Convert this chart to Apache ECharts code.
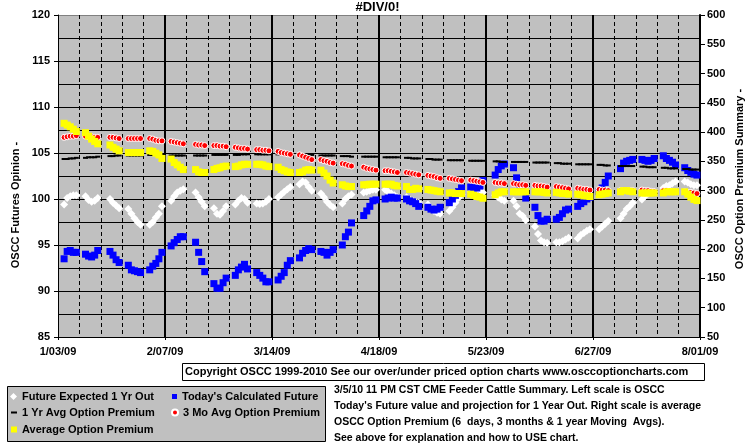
<!DOCTYPE html>
<html><head><meta charset="utf-8">
<script src="https://cdn.jsdelivr.net/npm/echarts@6/dist/echarts.min.js"></script>
<style>html,body{margin:0;padding:0;background:#fff}#c{width:755px;height:446px}</style>
</head><body><div id="c"></div>
<script>
// x tick labels (every 35 days starting Sat 1/03/09)
const xTickLabels = ['1/03/09','2/07/09','3/14/09','4/18/09','5/23/09','6/27/09','8/01/09'];
// 30 trading weeks, Mon..Fri, first Monday = 1/05/09 (null = market holiday)
const futureExpected = [
 99.4,100.1,100.3,100.4,100.4,  100.3,99.9,99.7,99.8,100.1,  null,100.0,99.6,99.3,99.0,
 98.9,98.4,97.9,97.5,97.2,  97.2,97.5,98.0,98.4,99.2,  99.8,100.3,100.7,100.9,101.05,
 null,100.7,100.2,99.7,99.2,  99.0,98.4,98.3,98.7,99.2,  99.4,99.8,100.1,100.0,99.6,
 99.5,99.45,99.5,99.7,100.0,  100.2,100.5,100.8,101.05,101.3,  101.6,101.9,101.8,101.3,100.9,
 100.6,100.2,99.7,99.35,99.1,  99.5,100.0,100.3,100.5,null,  100.7,100.8,100.9,101.0,101.0,
 101.0,100.8,100.6,100.4,100.2,  100.2,99.95,99.8,99.7,99.6,  99.4,99.0,98.7,98.5,98.4,
 98.7,99.1,99.6,100.1,100.5,  100.8,101.0,101.05,101.0,100.7,  null,100.4,100.15,99.95,99.8,
 99.8,99.2,98.4,98.15,97.7,  97.0,96.2,95.5,95.3,95.25,  95.3,95.3,95.4,95.6,95.8,
 95.7,96.1,96.3,96.55,96.7,  96.7,97.0,97.3,97.6,null,  97.9,98.4,98.9,99.2,99.6,
 99.95,100.3,100.6,100.7,100.8,  101.2,101.4,101.5,101.7,101.9,  101.9,101.8,101.6,101.5,101.5
];
const calculatedFuture = [
 93.5,94.3,94.4,94.2,94.2,  94.0,93.8,93.7,93.9,94.4,  null,94.3,93.9,93.4,93.1,
 92.8,92.3,92.2,92.1,92.0,  92.3,92.7,93.0,93.5,94.2,  94.9,95.25,95.6,95.9,95.9,
 null,95.3,94.2,93.2,92.1,  90.8,90.3,90.3,90.9,91.4,  91.7,92.3,92.6,92.9,92.4,
 92.0,91.7,91.4,91.0,91.0,  91.2,91.6,92.0,92.8,93.3,  93.6,94.1,94.4,94.6,94.5,
 94.3,94.2,93.9,94.2,94.5,  95.0,95.9,96.4,97.4,null,  98.2,98.7,99.2,99.8,99.9,
 100.0,100.1,100.2,100.1,100.1,  100.0,99.8,99.7,99.5,99.2,  99.1,98.9,98.8,98.9,99.1,
 99.6,100.0,100.4,100.8,101.2,  101.3,101.2,101.2,101.4,102.0,  null,102.6,103.2,103.6,103.8,
 103.4,102.3,101.3,101.1,100.1,  99.1,98.2,97.6,97.6,97.8,  97.8,98.0,98.4,98.8,98.9,
 99.2,99.5,99.7,100.0,100.2,  100.8,101.2,101.8,102.5,null,  103.3,103.9,104.1,104.2,104.3,
 104.3,104.2,104.1,104.2,104.4,  104.7,104.4,104.2,104.0,103.7,  103.4,103.1,102.9,102.7,102.6
];
const oneYrAvgPremium = [
 354,354,355,355,356,  356,357,357,357,358,  null,359,359,360,360,
 360,360,360,360,360,  361,361,361,361,361,  360,360,360,360,360,
 null,360,360,360,360,  361,361,361,361,361,  361,361,362,362,362,
 362,362,362,362,362,  362,362,361,361,361,  361,361,361,361,361,
 360,360,360,360,360,  359,359,359,358,null,  358,358,358,358,358,
 357,357,357,357,357,  356,356,355,355,355,  354,354,353,353,353,
 352,352,352,352,352,  351,351,351,351,351,  null,350,350,349,349,
 349,349,349,349,349,  348,348,348,348,348,  347,347,346,346,346,
 345,345,345,345,345,  344,344,343,343,null,  342,342,342,342,342,
 341,341,340,340,340,  339,339,338,338,338,  337,337,336,336,336
];
const threeMoAvgPremium = [
 391,392,393,393,394,  393,392,392,391,391,  null,391,391,390,389,
 389,389,389,389,389,  389,388,386,385,385,  384,383,382,381,380,
 null,379,378,378,377,  377,377,376,376,375,  374,373,372,372,371,
 370,370,369,369,368,  367,365,364,363,362,  361,359,357,355,353,
 353,351,350,348,347,  346,345,343,342,null,  340,338,337,336,335,
 334,334,333,332,331,  331,330,329,328,327,  326,325,324,322,321,
 321,320,319,318,317,  318,317,316,315,314,  null,314,313,313,312,
 312,311,310,310,309,  309,308,308,307,306,  307,306,305,304,303,
 304,303,302,302,301,  302,301,301,300,null,  300,300,300,300,300,
 301,300,300,299,298,  300,300,299,299,298,  298,297,297,296,295
];
const avgPremium = [
 415,412,409,405,401,  399,393,388,384,380,  null,378,374,371,368,
 365,365,365,365,365,  368,367,364,361,355,  354,348,344,340,336,
 null,336,332,331,331,  336,338,339,341,342,  341,342,344,345,345,
 345,345,344,342,341,  340,336,334,332,331,  331,332,335,336,335,
 335,330,325,318,313,  310,308,307,307,null,  310,310,311,311,311,
 311,311,311,309,308,  307,302,302,304,303,  302,301,300,299,298,
 296,296,295,295,295,  294,292,290,289,287,  null,293,296,298,298,
 298,298,298,298,298,  298,298,298,297,296,  297,296,295,295,294,
 294,293,291,291,290,  293,294,295,296,null,  298,300,300,299,298,
 296,296,296,296,296,  296,298,298,298,298,  298,294,289,285,283
];
const seriesNames = ['Future Expected 1 Yr Out', "Today's Calculated Future", '1 Yr Avg Option Premium', '3 Mo Avg Option Premium', 'Average Option Premium'];
const infoLines = [
 '3/5/10 11 PM CST CME Feeder Cattle Summary. Left scale is OSCC',
 "Today's Future value and projection for 1 Year Out. Right scale is average",
 'OSCC Option Premium (6  days, 3 months & 1 year Moving  Avgs).',
 'See above for explanation and how to USE chart.'
];
const copyrightText = 'Copyright OSCC 1999-2010 See our over/under priced option charts www.osccoptioncharts.com';

// day offset from 1/03/09 for each trading-day slot (Mon=+2 ... Fri=+6 in each week)
function toPoints(vals) {
  const out = [];
  vals.forEach((v, i) => {
    if (v === null) return;
    const day = 7 * Math.floor(i / 5) + 2 + (i % 5);
    out.push([day, v]);
  });
  return out;
}

const FF = '"Liberation Sans", Arial, sans-serif';
const txt = { fontFamily: FF, fontSize: 11, fontWeight: 'bold', color: '#000' };
const chart = echarts.init(document.getElementById('c'), null, { renderer: 'canvas' });

function leg(name, icon, w, h, left, top) {
  return { data: [{ name: name, icon: icon }], left: left, top: top, itemWidth: w, itemHeight: h,
    padding: 0, selectedMode: false, textStyle: txt, z: 10 };
}

chart.setOption({
  animation: false,
  backgroundColor: '#fff',
  title: { text: '#DIV/0!', left: 'center', top: 0, padding: [1, 0, 0, 0],
    textStyle: { fontFamily: FF, fontSize: 13, fontWeight: 'bold', color: '#000' } },
  grid: { left: 58, right: 55, top: 15, bottom: 109, containLabel: false, outerBoundsMode: 'none',
    show: true, backgroundColor: '#C0C0C0', borderWidth: 0 },
  legend: [
    leg(seriesNames[0], 'diamond', 7, 7, 10, 391),
    leg(seriesNames[2], 'rect', 6, 2, 11, 407),
    leg(seriesNames[4], 'rect', 6, 6, 11, 424),
    leg(seriesNames[1], 'rect', 5, 5, 172, 391),
    leg(seriesNames[3], 'circle', 6, 6, 171, 407)
  ],
  xAxis: {
    type: 'value', min: 0, max: 210, interval: 35,
    axisLine: { show: true, lineStyle: { color: '#000', width: 1 } },
    axisTick: { show: true, length: 3, lineStyle: { color: '#000' } },
    axisLabel: { ...txt, margin: 9, showMinLabel: true, showMaxLabel: true,
      formatter: v => xTickLabels[Math.round(v / 35)] || '' },
    splitLine: { show: true, lineStyle: { color: ['rgba(0,0,0,0)', '#000', '#000', '#000', '#000', '#000', '#000'], width: 2 } },
    minorTick: { show: false, splitNumber: 5 },
    minorSplitLine: { show: true, lineStyle: { color: '#000', width: 1, type: [4, 3] } }
  },
  yAxis: [
    { type: 'value', min: 85, max: 120, interval: 5, position: 'left',
      axisLine: { show: true, lineStyle: { color: '#000', width: 1 } },
      axisTick: { show: true, length: 4, lineStyle: { color: '#000' } },
      axisLabel: { ...txt, margin: 8 },
      splitLine: { show: true, lineStyle: { color: ['#000', '#000', '#000', '#000', '#000', '#000', '#000', '#808080'], width: 1 } },
      minorTick: { show: false, splitNumber: 2 },
      minorSplitLine: { show: true, lineStyle: { color: '#000', width: 1 } }
    },
    { type: 'value', min: 50, max: 600, interval: 50, position: 'right',
      axisLine: { show: true, lineStyle: { color: '#000', width: 2 } },
      axisTick: { show: true, length: 5, lineStyle: { color: '#000' } },
      axisLabel: { ...txt, margin: 7 },
      splitLine: { show: false }
    }
  ],
  series: [
    { name: seriesNames[0], type: 'scatter', yAxisIndex: 0, symbol: 'diamond', symbolSize: 8,
      itemStyle: { color: '#FFFFFF', opacity: 1 }, data: toPoints(futureExpected) },
    { name: seriesNames[1], type: 'scatter', yAxisIndex: 0, symbol: 'rect', symbolSize: 7,
      itemStyle: { color: '#0000FF', opacity: 1 }, data: toPoints(calculatedFuture) },
    { name: seriesNames[2], type: 'scatter', yAxisIndex: 1, symbol: 'rect', symbolSize: [5, 2],
      itemStyle: { color: '#000000', opacity: 1 }, data: toPoints(oneYrAvgPremium) },
    { name: seriesNames[3], type: 'scatter', yAxisIndex: 1, symbol: 'circle', symbolSize: 6,
      itemStyle: { color: '#FF0000', borderColor: '#FFFFFF', borderWidth: 1, opacity: 1 }, data: toPoints(threeMoAvgPremium) },
    { name: seriesNames[4], type: 'scatter', yAxisIndex: 1, symbol: 'rect', symbolSize: 7,
      itemStyle: { color: '#FFFF00', opacity: 1 }, data: toPoints(avgPremium) }
  ],
  graphic: [
    { type: 'text', x: 16, y: 205, rotation: Math.PI / 2, z: 5,
      style: { text: 'OSCC Futures Opinion -', align: 'center', verticalAlign: 'middle', font: 'bold 11px ' + FF, fill: '#000' } },
    { type: 'text', x: 740, y: 179, rotation: Math.PI / 2, z: 5,
      style: { text: 'OSCC Option Premium Summary -', align: 'center', verticalAlign: 'middle', font: 'bold 11px ' + FF, fill: '#000' } },
    { type: 'rect', shape: { x: 182.5, y: 363.5, width: 522, height: 17 }, z: 1,
      style: { fill: '#fff', stroke: '#000', lineWidth: 1 } },
    { type: 'text', x: 185, y: 372, z: 5,
      style: { text: copyrightText, align: 'left', verticalAlign: 'middle', font: 'bold 11px ' + FF, fill: '#000' } },
    { type: 'rect', shape: { x: 7.5, y: 386.5, width: 318, height: 55 }, z: 1,
      style: { fill: '#C0C0C0', stroke: '#000', lineWidth: 1 } },
    ...infoLines.map((t, i) => ({ type: 'text', x: 334, y: 390 + i * 16, z: 5,
      style: { text: t, align: 'left', verticalAlign: 'middle', font: 'bold 10.5px ' + FF, fill: '#000' } }))
  ]
});
</script>
</body></html>
